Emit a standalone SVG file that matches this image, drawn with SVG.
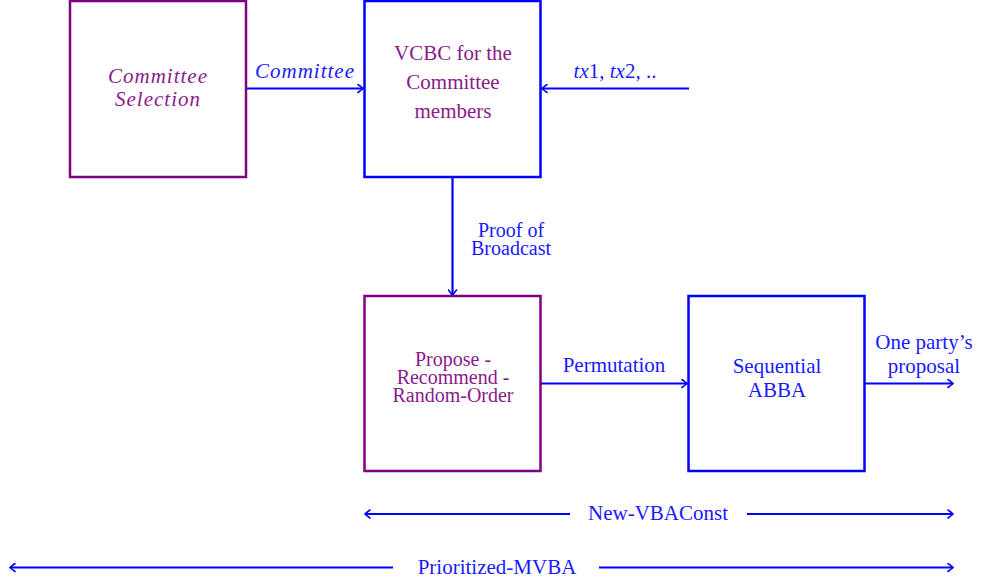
<svg xmlns="http://www.w3.org/2000/svg" width="981" height="583" viewBox="0 0 981 583">
<style>
.box{fill:none;stroke-width:2.5}
.pb{stroke:#800080}
.bb{stroke:#0000FF}
.t{font-family:"Liberation Serif","DejaVu Serif",serif;font-size:21px;text-anchor:middle}
.s{font-size:20px}
.tp{fill:#8B1A8B}
.tb{fill:#1a1aff}
.it{font-style:italic}
.c{stroke:#0000FF;stroke-width:2.2;fill:none}
</style>
<defs>
<marker id="ah" viewBox="-6 -5 8 10" refX="0" refY="0" markerWidth="8" markerHeight="10" markerUnits="userSpaceOnUse" orient="auto-start-reverse">
<path d="M-5,-4 Q-1,-1 0,0 Q-1,1 -5,4" fill="none" stroke="#0000FF" stroke-width="1.6" stroke-linecap="round"/>
</marker>
</defs>
<rect width="981" height="583" fill="#fff"/>
<g id="n-committee-selection">
<rect class="box pb" x="70" y="1" width="176" height="176"/>
<text class="t tp it" x="158" y="83" letter-spacing="1">Committee</text>
<text class="t tp it" x="158" y="106" letter-spacing="1">Selection</text>
</g>
<g id="n-vcbc">
<rect class="box bb" x="364.5" y="1" width="176" height="176"/>
<text class="t tp" x="453" y="60">VCBC for the</text>
<text class="t tp" x="453" y="89">Committee</text>
<text class="t tp" x="453" y="118">members</text>
</g>
<g id="n-propose">
<rect class="box pb" x="364.5" y="296" width="176" height="175"/>
<text class="t tp s" x="453" y="366">Propose -</text>
<text class="t tp s" x="453" y="384">Recommend -</text>
<text class="t tp s" x="453" y="402">Random-Order</text>
</g>
<g id="n-abba">
<rect class="box bb" x="688.5" y="296" width="176" height="175"/>
<text class="t tb" x="777" y="373">Sequential</text>
<text class="t tb" x="777" y="397">ABBA</text>
</g>
<g id="connectors">
<line class="c" x1="247" y1="88.5" x2="363" y2="88.5" marker-end="url(#ah)"/>
<text class="t tb it" x="305" y="78" letter-spacing="1">Committee</text>
<line class="c" x1="689" y1="88.5" x2="542" y2="88.5" marker-end="url(#ah)"/>
<text class="t tb" x="615" y="78"><tspan font-style="italic">tx</tspan>1, <tspan font-style="italic">tx</tspan>2, ..</text>
<line class="c" x1="452.5" y1="178" x2="452.5" y2="295" marker-end="url(#ah)"/>
<text class="t tb s" x="511" y="237">Proof of</text>
<text class="t tb s" x="511" y="255">Broadcast</text>
<line class="c" x1="541" y1="383.5" x2="687" y2="383.5" marker-end="url(#ah)"/>
<text class="t tb" x="614" y="372">Permutation</text>
<line class="c" x1="865" y1="383.5" x2="953" y2="383.5" marker-end="url(#ah)"/>
<text class="t tb" x="924" y="349">One party’s</text>
<text class="t tb" x="924" y="373">proposal</text>
<line class="c" x1="570" y1="514" x2="365" y2="514" marker-end="url(#ah)"/>
<line class="c" x1="747" y1="514" x2="953" y2="514" marker-end="url(#ah)"/>
<text class="t tb" x="658" y="520">New-VBAConst</text>
<line class="c" x1="393" y1="567.5" x2="10" y2="567.5" marker-end="url(#ah)"/>
<line class="c" x1="599" y1="567.5" x2="953" y2="567.5" marker-end="url(#ah)"/>
<text class="t tb" x="497" y="574">Prioritized-MVBA</text>
</g>
</svg>
